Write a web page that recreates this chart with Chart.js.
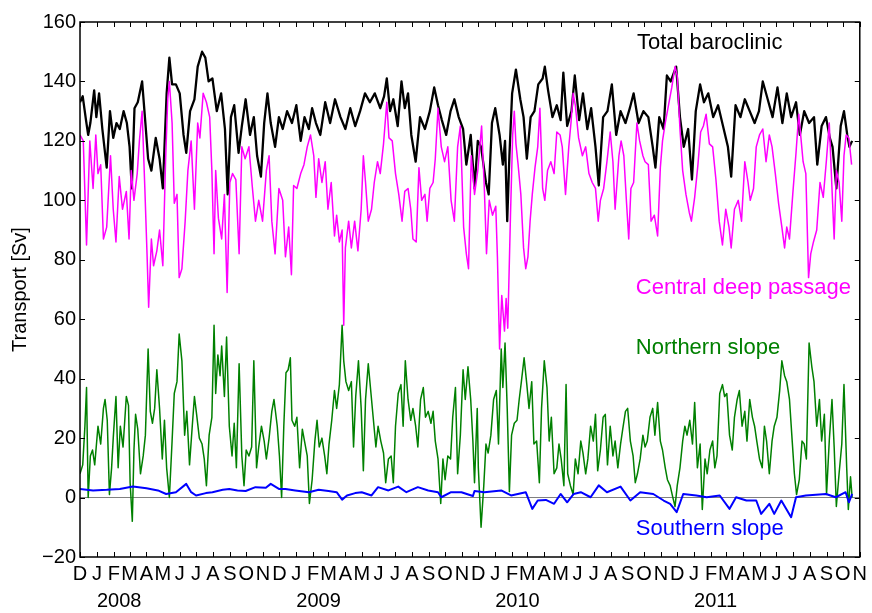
<!DOCTYPE html>
<html>
<head>
<meta charset="utf-8">
<script src="https://cdn.jsdelivr.net/npm/chart.js@4.4.1/dist/chart.umd.min.js"></script>
<style>
  body { margin: 0; background: #fff; }
  canvas { display: block; }
</style>
</head>
<body>
<canvas id="transportChart" width="872" height="613"></canvas>
<script>
// days are counted from 1 Dec 2007, values in Sv
const totalDays = [0,5,11,15,19,26,30,35,41,49,55,61,67,73,80,86,91,95,100,106,114,120,125,131,139,146,152,159,164,169,176,183,190,195,202,210,216,224,230,236,243,251,259,266,271,277,283,291,297,304,312,319,325,332,338,344,350,358,365,372,380,389,397,405,412,420,426,433,441,450,459,468,478,487,496,505,514,523,532,541,551,558,563,569,575,583,590,596,602,608,616,624,633,642,650,657,664,672,680,687,695,703,709,717,724,730,
  736,745,750,756,762,770,776,780,784,788,793,800,808,814,820,827,834,841,849,853,859,867,875,882,887,894,902,908,916,923,931,938,946,952,960,968,976,984,992,1001,1009,1016,1025,1034,1043,1051,1056,1063,1071,1077,1084,1094,1101,1108,1116,1123,1130,1138,1145,1153,1162,1171,1180,1189,1195,1203,1212,1220,1229,1238,1246,1253,1262,1271,1280,1289,1297,1305,1314,1321,1329,1338,1347,1353,1361,1369,1376,1381,1388,1396,1402,1408,1412,1417];
const totalValues = [133,135,127,122,126,137,128,136,124,111,130,121,126,124,130,126,118,104,131,133,140,126,114,110,121,114,104,136,148,139,139,136,122,116,130,134,145,150,148,140,141,130,136,124,102,128,132,116,125,134,122,128,115,108,126,136,126,118,128,124,130,126,132,120,128,124,131,126,122,133,126,134,128,124,131,125,130,136,133,136,131,135,141,130,134,125,140,131,136,122,113,128,124,130,138,132,127,122,130,134,128,124,112,122,104,120,
  118,106,102,126,131,122,112,120,93,115,136,144,134,128,114,128,130,139,141,145,137,128,132,127,143,125,130,142,127,136,124,131,118,105,128,130,139,122,130,126,131,136,126,130,128,118,111,128,124,142,140,145,128,118,124,107,130,139,133,136,128,132,125,118,108,132,128,134,130,126,130,140,134,128,138,126,136,128,133,122,130,126,128,112,125,128,121,118,104,125,130,122,118,120];

const centralDays = [0,6,12,18,24,29,33,38,43,49,56,61,66,72,78,85,90,94,99,105,109,114,119,123,126,131,135,141,146,152,157,161,164,169,173,178,182,187,193,198,204,210,216,220,226,232,238,242,246,249,254,260,265,270,275,280,286,292,297,303,310,316,322,328,335,342,347,352,358,365,372,377,383,388,392,398,405,411,417,423,429,433,438,444,450,455,461,467,471,476,481,484,487,493,498,504,510,516,520,524,529,535,540,546,551,557,563,567,573,579,585,591,596,602,607,611,617,622,627,633,637,642,648,652,657,663,669,675,681,687,693,698,704,709,713,
  718,724,730,737,742,746,751,757,763,766,770,774,779,782,785,790,794,797,800,804,809,814,818,822,826,830,835,840,844,849,853,858,864,870,875,881,885,891,897,901,905,909,915,922,928,934,940,946,951,955,961,967,973,978,982,989,993,998,1003,1007,1011,1016,1022,1027,1033,1037,1043,1048,1054,1060,1065,1069,1074,1080,1086,1092,1096,1101,1106,1112,1118,1122,1128,1134,1139,1144,1149,1155,1161,1167,1173,1179,1185,1191,1195,1201,1208,1214,1220,1226,1230,1236,1241,1247,1253,1259,1265,1270,1276,1282,1288,1293,1297,1302,1308,1314,1319,1323,1327,1332,1337,1341,1346,1352,1358,1364,1370,1375,1380,1384,1388,1393,1398,1402,1406,1411,1416];
const centralValues = [122,120,85,120,104,122,109,112,87,91,115,97,86,108,97,103,87,110,100,109,120,130,104,82,64,87,78,83,90,78,113,134,140,126,99,102,74,77,93,110,120,97,126,121,136,133,128,110,82,110,94,87,102,69,106,109,107,82,118,114,118,105,93,100,93,110,115,93,82,104,100,81,91,75,105,104,109,112,118,122,115,101,114,106,113,97,106,88,95,86,90,58,84,93,84,93,83,97,115,106,93,97,106,113,109,119,133,121,120,109,102,93,103,104,97,87,86,111,100,102,93,104,106,114,131,118,113,118,100,93,118,125,91,82,77,
  115,102,110,125,104,82,100,95,98,81,50,68,56,67,57,95,122,130,119,112,102,84,77,81,93,102,111,118,131,104,100,110,113,109,123,122,118,102,118,126,136,132,121,115,118,109,106,104,93,100,104,113,123,113,97,115,120,115,99,87,104,106,126,120,115,113,112,93,95,88,111,120,126,132,138,145,142,124,110,102,96,93,101,112,123,125,129,119,118,107,93,85,97,91,84,97,100,93,113,106,100,104,118,122,124,113,122,118,109,99,91,84,91,87,102,116,129,121,113,109,74,82,86,90,106,101,114,126,104,87,110,106,93,115,122,121,112];

const northDays = [0,5,9,12,15,19,23,27,33,38,43,46,50,54,58,61,66,70,74,79,85,89,92,96,99,102,106,111,116,120,125,129,133,137,141,146,151,155,159,164,169,173,178,182,187,192,196,201,206,210,214,219,224,228,232,237,242,246,249,253,257,260,265,269,274,279,283,287,292,297,301,305,310,315,319,324,328,333,338,342,347,352,356,362,366,370,374,378,382,386,389,394,398,403,408,412,417,421,426,431,435,439,444,449,453,457,462,467,471,476,481,484,488,493,498,502,506,511,516,520,524,529,534,538,543,547,552,557,561,566,571,575,579,584,589,593,597,602,607,611,616,620,625,630,634,639,644,648,652,657,662,666,670,675,680,684,689,693,698,703,707,712,717,721,724,729,
  731,736,741,745,749,754,759,764,768,773,776,780,784,788,792,797,802,806,810,815,820,824,829,833,838,843,847,852,857,861,865,870,875,879,883,888,892,895,900,905,909,914,919,923,928,932,937,942,946,950,955,960,964,968,973,978,982,987,992,996,1001,1005,1010,1015,1019,1023,1028,1033,1037,1041,1046,1051,1055,1060,1065,1069,1074,1078,1083,1088,1092,1096,1101,1106,1110,1114,1119,1124,1128,1133,1138,1142,1147,1151,1156,1161,1165,1169,1174,1179,1183,1187,1192,1197,1201,1206,1210,1215,1220,1224,1229,1234,1238,1242,1247,1252,1256,1260,1265,1270,1274,1279,1284,1288,1293,1297,1302,1307,1311,1315,1320,1325,1329,1333,1338,1343,1347,1352,1357,1361,1366,1370,1375,1380,1384,1388,1393,1398,1402,1407,1410,1414,1417];
const northValues = [8,11,24,37,0,14,16,11,24,18,30,33,26,1,10,20,34,10,24,17,34,31,5,-8,16,28,23,8,14,21,50,29,25,30,43,30,13,26,10,0,19,35,39,55,46,21,29,11,24,34,28,20,18,13,4,21,27,58,35,48,41,51,34,54,24,14,25,10,45,14,4,16,14,17,46,10,17,24,19,13,20,29,33,24,14,0,24,42,43,47,26,24,27,10,23,19,14,-2,6,19,26,17,20,14,8,18,26,36,30,38,58,46,39,36,39,17,34,46,30,9,33,45,35,27,17,24,19,15,5,13,14,5,24,35,38,24,46,33,26,30,24,17,33,37,27,29,25,29,19,13,-2,13,6,14,13,27,37,8,21,43,33,44,33,19,5,30,
  10,-10,4,18,15,21,33,36,18,50,37,52,30,2,21,25,26,33,39,47,38,30,39,18,19,5,30,46,37,19,27,8,10,18,13,4,38,8,4,1,13,8,19,15,8,13,24,19,28,9,16,27,28,11,24,14,19,10,18,23,29,30,19,14,5,8,13,21,17,19,27,30,21,32,19,16,10,6,4,0,-3,4,10,19,24,21,26,18,32,10,18,-4,13,8,16,19,10,14,35,38,34,35,21,16,27,33,36,24,29,19,33,27,24,19,13,10,24,19,8,19,24,27,36,46,41,39,33,19,8,1,6,19,18,13,52,44,39,24,33,19,28,1,19,33,17,-3,8,18,38,10,-4,7,0];

const southDays = [0,24,49,73,97,122,143,158,176,195,204,213,231,243,262,274,289,304,322,341,350,365,377,395,420,438,456,471,481,490,505,517,535,547,566,584,599,620,639,657,663,681,700,721,
  724,742,773,791,818,830,840,855,870,882,894,906,919,937,952,967,992,1010,1028,1052,1071,1083,1095,1107,1131,1150,1174,1192,1204,1223,1241,1250,1265,1274,1287,1305,1314,1332,1369,1387,1405,1411,1417];
const southValues = [2.9,2.4,2.6,2.9,3.7,3.1,2.4,1.2,1.8,4.6,1.8,0.7,1.5,1.8,2.6,2.9,2.4,2.2,3.5,3.3,4.6,2.9,2.9,2.4,1.8,2.6,2.2,1.8,-0.7,0.7,1.5,1.8,0.7,3.5,2.4,3.7,1.8,3.5,2.4,1.8,0.1,1.8,1.8,0.5,
  2.2,1.8,2.4,0.7,1.8,-3.8,-1.0,-0.8,-2.1,1.2,-1.6,1.2,1.8,0.1,4.1,1.8,3.7,-1.0,1.8,1.2,-1.0,-2.1,-4.9,1.2,0.7,0.1,0.7,-3.8,0.1,-1.0,-1.0,-5.5,-2.1,-5.5,-1.0,-6.6,0.1,0.7,1.2,0.1,1.8,-1.6,1.2];

const monthLetters = ['J', 'F', 'M', 'A', 'M', 'J', 'J', 'A', 'S', 'O', 'N', 'D'];
const yearLabels = ['2008', '2009', '2010', '2011'];

const seriesLabels = [
  { text: 'Total baroclinic', color: '#000000', day: 1022, value: 153 },
  { text: 'Central deep passage', color: '#ff00ff', day: 1020, value: 70.5 },
  { text: 'Northern slope', color: '#008000', day: 1020, value: 50.2 },
  { text: 'Southern slope', color: '#0000ff', day: 1020, value: -10.4 }
];

const DAY = 86400000;
const START = Date.UTC(2007, 11, 1);
const dayOf = (y, m) => (Date.UTC(y, m, 1) - START) / DAY;

// month boundaries Dec 2007 .. Nov 2011
const monthTicks = [];
for (let i = 0; i < 48; i++) {
  const y = 2007 + Math.floor((11 + i) / 12);
  const m = (11 + i) % 12;
  monthTicks.push({ day: dayOf(y, m), letter: monthLetters[m] });
}
const xMax = dayOf(2011, 10);

const toPoints = (days, vals) => days.map((d, i) => ({ x: d, y: vals[i] }));
const FONT = 'Liberation Sans, Arial, Helvetica, sans-serif';

const axesBox = {
  id: 'axesBox',
  afterDatasetsDraw(chart) {
    const { ctx, chartArea: a, scales: { x, y } } = chart;
    const len = 5;
    ctx.save();
    ctx.strokeStyle = '#000';
    ctx.lineWidth = 1;
    ctx.beginPath();
    y.ticks.forEach(t => {
      const py = Math.round(y.getPixelForValue(t.value)) + 0.5;
      ctx.moveTo(a.left, py); ctx.lineTo(a.left + len, py);
      ctx.moveTo(a.right, py); ctx.lineTo(a.right - len, py);
    });
    x.ticks.forEach(t => {
      const px = Math.round(x.getPixelForValue(t.value)) + 0.5;
      ctx.moveTo(px, a.bottom); ctx.lineTo(px, a.bottom - len);
      ctx.moveTo(px, a.top); ctx.lineTo(px, a.top + len);
    });
    ctx.stroke();
    ctx.lineWidth = 1.5;
    ctx.strokeRect(a.left, a.top, a.right - a.left, a.bottom - a.top);

    // year under each January
    ctx.fillStyle = '#000';
    ctx.font = '20px ' + FONT;
    ctx.textAlign = 'left';
    ctx.textBaseline = 'middle';
    yearLabels.forEach(yr => {
      ctx.fillText(yr, x.getPixelForValue(dayOf(+yr, 0)), 601);
    });

    // series names
    ctx.font = '22px ' + FONT;
    seriesLabels.forEach(l => {
      ctx.fillStyle = l.color;
      ctx.fillText(l.text, x.getPixelForValue(l.day), y.getPixelForValue(l.value));
    });
    ctx.restore();
  }
};

new Chart(document.getElementById('transportChart'), {
  type: 'line',
  data: {
    datasets: [
      { data: toPoints(southDays, southValues), borderColor: '#0000ff', borderWidth: 2 },
      { data: toPoints(northDays, northValues), borderColor: '#008000', borderWidth: 1.5 },
      { data: toPoints(centralDays, centralValues), borderColor: '#ff00ff', borderWidth: 1.5 },
      { data: toPoints(totalDays, totalValues), borderColor: '#000000', borderWidth: 2.3 }
    ]
  },
  options: {
    responsive: false,
    animation: false,
    layout: { padding: { left: 0, right: 8, top: 22, bottom: 0 } },
    elements: { point: { radius: 0 }, line: { tension: 0, borderJoinStyle: 'round' } },
    plugins: { legend: { display: false }, tooltip: { enabled: false } },
    scales: {
      x: {
        type: 'linear',
        min: 0,
        max: xMax,
        afterBuildTicks: s => { s.ticks = monthTicks.map(t => ({ value: t.day })); },
        afterFit: s => { s.height = 56; },
        grid: { display: false, drawTicks: false },
        border: { display: false },
        ticks: {
          autoSkip: false,
          maxRotation: 0,
          padding: 5,
          color: '#000',
          font: { family: FONT, size: 20 },
          callback: v => {
            const t = monthTicks.find(m => m.day === v);
            return t ? t.letter : '';
          }
        }
      },
      y: {
        min: -20,
        max: 160,
        afterFit: s => { s.width = 80; },
        grid: {
          drawTicks: false,
          lineWidth: 1,
          color: c => (c.tick && c.tick.value === 0) ? '#808080' : 'rgba(0,0,0,0)'
        },
        border: { display: false },
        ticks: {
          stepSize: 20,
          padding: 4,
          color: '#000',
          font: { family: FONT, size: 20 },
          callback: v => v < 0 ? '\u2212' + Math.abs(v) : String(v)
        },
        title: {
          display: true,
          text: 'Transport [Sv]',
          color: '#000',
          font: { family: FONT, size: 20 },
          padding: { top: 8, bottom: 0 }
        }
      }
    }
  },
  plugins: [axesBox]
});
</script>
</body>
</html>
